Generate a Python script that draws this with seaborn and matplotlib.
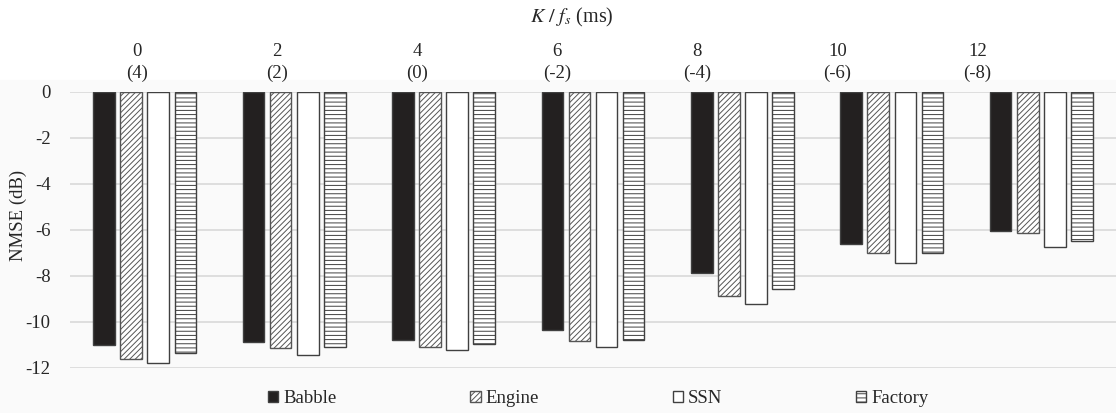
import pandas as pd
import matplotlib.pyplot as plt
import seaborn as sns
from matplotlib.patches import Rectangle

# Datos
delays = ["0", "2", "4", "6", "8", "10", "12"]
offsets = ["(4)", "(2)", "(0)", "(-2)", "(-4)", "(-6)", "(-8)"]
babble = [-11.0, -10.85, -10.78, -10.35, -7.87, -6.6, -6.05]
engine = [-11.6, -11.15, -11.08, -10.82, -8.86, -7.02, -6.13]
ssn = [-11.8, -11.43, -11.2, -11.08, -9.23, -7.45, -6.73]
factory = [-11.35, -11.08, -10.97, -10.8, -8.57, -7.02, -6.47]
noises = ["Babble", "Engine", "SSN", "Factory"]

df = pd.DataFrame({
    "delay": delays * 4,
    "noise": [n for n in noises for _ in delays],
    "nmse": babble + engine + ssn + factory,
})

sns.set_style("white")
plt.rcParams["font.family"] = ["Liberation Serif", "DejaVu Serif"]
plt.rcParams["mathtext.fontset"] = "stix"
plt.rcParams["hatch.linewidth"] = 0.7
fs = 13.5

fig = plt.figure(figsize=(11.16, 4.13), dpi=100)
fig.patches.append(Rectangle((0, 0), 1, 1 - 80 / 413, transform=fig.transFigure,
                             color="#fafafa", zorder=-10))
ax = fig.add_axes([70 / 1116, 1 - 368 / 413, 1 - 70 / 1116, (368 - 92) / 413])
ax.set_facecolor("none")

colores = {"Babble": "#231f20", "Engine": "white", "SSN": "white", "Factory": "white"}
sns.barplot(data=df, x="delay", y="nmse", hue="noise", hue_order=noises,
            palette=colores, width=0.725, gap=0.2, ax=ax,
            edgecolor="#404040", linewidth=1.0, legend=False)

hatches = ["", "//////", "", "----"]
for cont, h in zip(ax.containers, hatches):
    for bar in cont:
        bar.set_hatch(h)
        if h == "//////":
            bar.set_edgecolor("#555555")

ax.set_ylim(-12, 0)
ax.set_yticks(range(-12, 1, 2))
ax.set_yticklabels([str(v) for v in range(-12, 1, 2)], fontsize=fs)
ax.tick_params(axis="y", length=0, pad=14)
ax.grid(axis="y", color="#d9d9d9", linewidth=1.2)
ax.set_axisbelow(True)
ax.set_xticks([])
ax.set_xlabel("")
ax.set_ylabel("NMSE (dB)", fontsize=fs)
ax.yaxis.set_label_coords(-0.041, 0.554)
sns.despine(ax=ax, left=True, bottom=True)

# Eje superior con los valores de K/fs
top = ax.twiny()
top.set_xlim(-0.48, 6.99)
top.set_xticks(range(len(delays)))
top.set_xticklabels([d + "\n" + o for d, o in zip(delays, offsets)],
                    fontsize=fs, linespacing=1.4)
top.tick_params(axis="x", length=0, pad=7)
for s in top.spines.values():
    s.set_visible(False)
fig.text(572 / 1116, 1 - 17 / 413, r"$K\ /\ f_s$ (ms)", fontsize=14.5,
         ha="center", va="center")

fig.legend(ax.containers, noises, loc="center", bbox_to_anchor=(0.536, 0.034),
           ncol=4, frameon=False, fontsize=fs, handlelength=0.55,
           handleheight=0.55, handletextpad=0.25, columnspacing=7.15)

plt.savefig("out.png", dpi=100)
